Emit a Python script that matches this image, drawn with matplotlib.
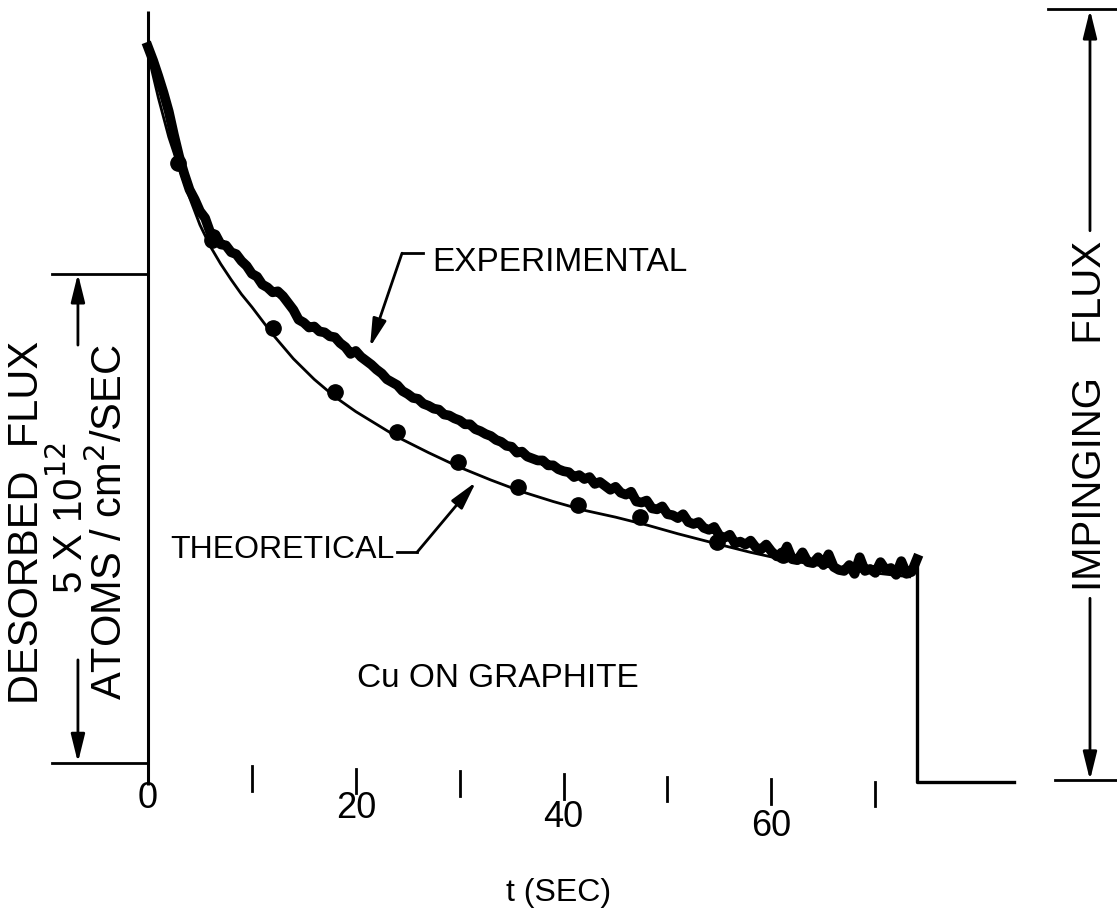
import matplotlib
matplotlib.use("Agg")
import matplotlib.pyplot as plt

plt.rcParams['font.family'] = ['Liberation Sans', 'DejaVu Sans']

# experimental trace, t in sec, flux in units of 1e12 atoms/cm2/sec
exp_t = [0.0, 0.5, 1.0, 1.5, 2.0, 2.5, 3.0, 3.5, 4.0, 4.5, 5.0, 5.5, 6.0, 6.5,
         7.0, 7.5, 8.0, 8.5, 9.0, 9.5, 10.0, 10.5, 11.0, 11.5, 12.0, 12.5,
         13.0, 13.5, 14.0, 14.5, 15.0, 15.5, 16.0, 16.5, 17.0, 17.5, 18.0,
         18.5, 19.0, 19.5, 20.0, 20.5, 21.0, 21.5, 22.0, 22.5, 23.0, 23.5,
         24.0, 24.5, 25.0, 25.5, 26.0, 26.5, 27.0, 27.5, 28.0, 28.5, 29.0,
         29.5, 30.0, 30.5, 31.0, 31.5, 32.0, 32.5, 33.0, 33.5, 34.0, 34.5,
         35.0, 35.5, 36.0, 36.5, 37.0, 37.5, 38.0, 38.5, 39.0, 39.5, 40.0,
         40.5, 41.0, 41.5, 42.0, 42.5, 43.0, 43.5, 44.0, 44.5, 45.0, 45.5,
         46.0, 46.5, 47.0, 47.5, 48.0, 48.5, 49.0, 49.5, 50.0, 50.5, 51.0,
         51.5, 52.0, 52.5, 53.0, 53.5, 54.0, 54.5, 55.0, 55.5, 56.0, 56.5,
         57.0, 57.5, 58.0, 58.5, 59.0, 59.5, 60.0, 60.5, 61.0, 61.5, 62.0,
         62.5, 63.0, 63.5, 64.0, 64.5, 65.0, 65.5, 66.0, 66.5, 67.0, 67.5,
         68.0, 68.5, 69.0, 69.5, 70.0, 70.5, 71.0, 71.5, 72.0, 72.5, 73.0,
         73.5, 74.0]
exp_f = [7.52, 7.38, 7.22, 7.05, 6.86, 6.62, 6.40, 6.22, 6.06, 5.96, 5.84, 5.77,
         5.62, 5.60, 5.50, 5.49, 5.42, 5.40, 5.33, 5.28, 5.20, 5.17, 5.09, 5.06,
         5.01, 5.02, 4.97, 4.90, 4.83, 4.73, 4.70, 4.65, 4.66, 4.61, 4.60, 4.56,
         4.55, 4.49, 4.45, 4.38, 4.41, 4.35, 4.31, 4.27, 4.22, 4.18, 4.12, 4.09,
         4.06, 4.00, 3.97, 3.93, 3.92, 3.87, 3.85, 3.82, 3.81, 3.76, 3.75, 3.72,
         3.70, 3.66, 3.66, 3.61, 3.59, 3.56, 3.54, 3.50, 3.48, 3.44, 3.43, 3.37,
         3.38, 3.33, 3.31, 3.29, 3.29, 3.24, 3.24, 3.20, 3.18, 3.17, 3.12, 3.14,
         3.10, 3.12, 3.05, 3.07, 3.03, 2.99, 3.02, 2.96, 2.94, 2.97, 2.87, 2.86,
         2.88, 2.80, 2.79, 2.82, 2.74, 2.73, 2.70, 2.74, 2.66, 2.64, 2.66, 2.60,
         2.58, 2.61, 2.52, 2.50, 2.53, 2.44, 2.46, 2.43, 2.47, 2.40, 2.38, 2.43,
         2.36, 2.31, 2.30, 2.41, 2.28, 2.27, 2.35, 2.25, 2.24, 2.30, 2.22, 2.33,
         2.20, 2.17, 2.16, 2.22, 2.13, 2.30, 2.16, 2.18, 2.14, 2.25, 2.17, 2.19,
         2.12, 2.26, 2.13, 2.15, 2.28]

# flux after the beam is cut off
off_t = [74.0, 74.0, 83.3]
off_f = [2.28, 0.0, 0.0]

# theoretical curve
theo_t = [0, 1, 2, 3, 4, 5, 6, 7, 8, 9, 10, 12, 14, 16, 18, 20, 22, 24, 27, 30,
          33, 36, 39, 42, 45, 48, 51, 55, 58, 61, 65, 69, 73.3]
theo_f = [7.45, 7.00, 6.60, 6.28, 5.98, 5.70, 5.48, 5.30, 5.14, 4.99, 4.86, 4.58,
          4.33, 4.12, 3.94, 3.79, 3.66, 3.53, 3.37, 3.22, 3.09, 2.97, 2.87, 2.78,
          2.71, 2.63, 2.54, 2.43, 2.35, 2.28, 2.21, 2.15, 2.10]

# computed points on the theoretical curve
dot_t = [2.9, 6.2, 12.0, 18.0, 24.0, 29.8, 35.6, 41.4, 47.4, 54.8, 61.1]
dot_f = [6.33, 5.55, 4.64, 3.99, 3.58, 3.27, 3.02, 2.83, 2.71, 2.46, 2.32]

major_ticks = [0, 20, 40, 60]
minor_ticks = [10, 30, 50, 70]

scale_low, scale_high = 0.2, 5.2     # 5 x 10^12 bar
imp_low, imp_high = 0.02, 7.9        # impinging flux bar

fig = plt.figure(figsize=(11.17, 9.17), dpi=100)
ax = fig.add_axes([0, 0, 1, 1])
ax.set_xlim(-14.24, 93.26)
ax.set_ylim(-1.38, 8.0)
ax.axis('off')

# y axis line
ax.plot([0, 0], [-0.03, 7.89], color='black', lw=2.2, solid_capstyle='butt')

# traces
ax.plot(exp_t, exp_f, color='black', lw=7, solid_joinstyle='round')
ax.plot(off_t, off_f, color='black', lw=2.4)
ax.plot(theo_t, theo_f, color='black', lw=2.0)
ax.plot(dot_t, dot_f, 'o', color='black', ms=11)

# x ticks (scan is slightly skewed, ticks drift down to the right)
skew = 0.0027
for t in major_ticks + minor_ticks:
    if t == 0:
        continue
    ax.plot([t, t], [0.19 - skew * t, -0.06 - skew * t], color='black', lw=2)
for t in major_ticks:
    ax.text(t, -0.17 - 0.0048 * t, str(t), ha='center', va='center', fontsize=26)
ax.text(39.5, -1.13, 't (SEC)', ha='center', va='center', fontsize=23)

# left scale bar
ax.plot([-9.24, 0], [scale_high, scale_high], color='black', lw=2)
ax.plot([-9.24, 0], [scale_low, scale_low], color='black', lw=2)
arrow = dict(arrowstyle='-|>,head_length=1.7,head_width=0.42', color='black',
             lw=2, shrinkA=0, shrinkB=0)
ax.annotate('', xy=(-6.74, scale_high), xytext=(-6.74, 4.47), arrowprops=arrow)
ax.annotate('', xy=(-6.74, scale_low), xytext=(-6.74, 1.25), arrowprops=arrow)
ax.text(-11.6, 2.66, 'DESORBED  FLUX', rotation=90, ha='center', va='center',
        fontsize=30)
ax.text(-7.5, 2.70, r'5 X 10$^{12}$', rotation=90, ha='center', va='center',
        fontsize=29)
ax.text(-3.7, 2.66, r'ATOMS / cm$^{2}$/SEC', rotation=90, ha='center',
        va='center', fontsize=30)

# right impinging flux bar
ax.plot([86.6, 93.3], [imp_high + 0.01, imp_high + 0.01], color='black', lw=2)
ax.plot([87.3, 93.3], [imp_low, imp_low], color='black', lw=2)
ax.annotate('', xy=(90.66, imp_high), xytext=(90.66, 5.64), arrowprops=arrow)
ax.annotate('', xy=(90.66, imp_low), xytext=(90.66, 1.88), arrowprops=arrow)
ax.text(90.66, 3.75, 'IMPINGING   FLUX', rotation=90, ha='center', va='center',
        fontsize=29)

# labels with leaders
ax.text(27.33, 5.31, 'EXPERIMENTAL', ha='left', va='center', fontsize=24)
ax.plot([24.45, 26.47], [5.41, 5.41], color='black', lw=2)
ax.annotate('', xy=(21.37, 4.45), xytext=(24.45, 5.41), arrowprops=arrow)

ax.text(2.12, 2.37, 'THEORETICAL', ha='left', va='center', fontsize=23)
ax.plot([23.97, 25.89], [2.35, 2.35], color='black', lw=2)
ax.annotate('', xy=(31.57, 3.07), xytext=(25.89, 2.35), arrowprops=arrow)

ax.text(33.7, 1.06, 'Cu ON GRAPHITE', ha='center', va='center', fontsize=24)

fig.savefig('out.png', dpi=100, facecolor='white')
